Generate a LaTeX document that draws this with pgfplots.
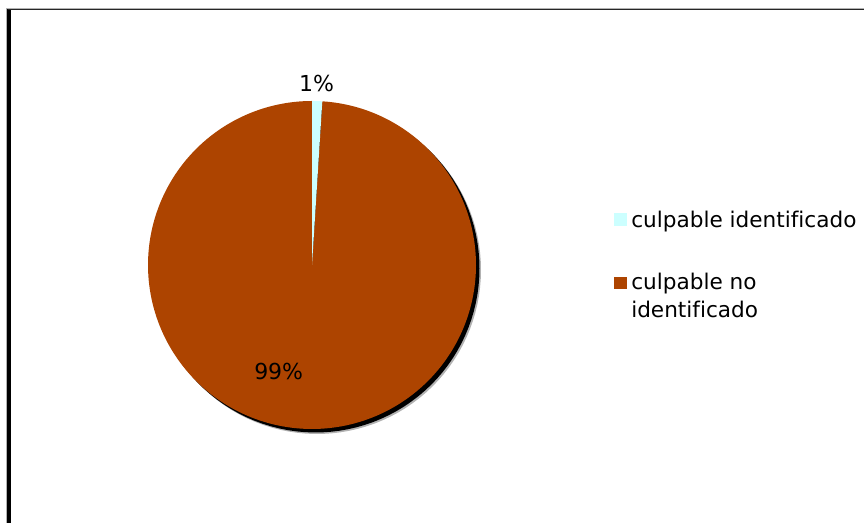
\documentclass[border=0pt]{standalone}
\usepackage{fontspec}
\setmainfont{DejaVu Sans}[Ligatures=NoCommon]
\usepackage{pgfplots}
\usepackage{pgfplotstable}
\pgfplotsset{compat=1.18}
\definecolor{piebrown}{RGB}{173,68,0}
\definecolor{piecyan}{RGB}{204,255,255}
\pgfplotstableread[col sep=comma]{
label,value
culpable identificado,1
culpable no identificado,99
}\piedata
\begin{document}%
\begin{tikzpicture}
\pgfplotstablegetelem{0}{value}\of\piedata \pgfmathsetmacro{\va}{\pgfplotsretval}
\pgfplotstablegetelem{1}{value}\of\piedata \pgfmathsetmacro{\vb}{\pgfplotsretval}
\pgfmathsetmacro{\aA}{90}
\pgfmathsetmacro{\aB}{90-3.6*\va}
\pgfmathsetmacro{\aC}{90-3.6*(\va+\vb)}
\begin{axis}[scale only axis, width=648pt, height=392.25pt,
  xmin=0, xmax=864, ymin=0, ymax=523, hide axis, clip=false]
\coordinate (SW) at (rel axis cs:0,0);
\coordinate (NE) at (rel axis cs:1,1);
% frame
\draw[gray!60, line width=0.9pt] (6.6,0) -- (6.6,514.5) -- (864,514.5);
\draw[black, line width=2.6pt] (9.2,0) -- (9.2,513.5);
\draw[black!85, line width=0.9pt] (7.5,513.5) -- (864,513.5);
% shadow
\addplot[fill=black, fill opacity=0.3, draw=none, domain=0:360, samples=120] ({317+164*cos(x)},{253+164*sin(x)}) -- cycle;
\addplot[fill=black, draw=none, domain=0:360, samples=120] ({315.5+164*cos(x)},{254.5+164*sin(x)}) -- cycle;
% slices
\addplot[fill=piebrown, draw=none, domain=\aC:\aB, samples=240] ({312+164*cos(x)},{258+164*sin(x)}) -- (312,258) -- cycle;
\addplot[fill=piecyan, draw=none, domain=\aB:\aA, samples=10] ({312+164*cos(x)},{258+164*sin(x)}) -- (312,258) -- cycle;
% labels
\node[anchor=base, inner sep=0pt, font=\fontsize{16.5}{19}\selectfont] at (316.5,431) {1\%};
\node[anchor=base, inner sep=0pt, font=\fontsize{16.5}{19}\selectfont] at (278.7,143.7) {99\%};
% legend
\fill[piecyan] (614,297) rectangle (627,310);
\fill[piebrown] (614,234) rectangle (627,246);
\node[anchor=base west, inner sep=0pt, font=\fontsize{16.2}{19}\selectfont] at (631,295.7) {culpable identificado};
\node[anchor=base west, inner sep=0pt, font=\fontsize{16.2}{19}\selectfont] at (631,233) {culpable no};
\node[anchor=base west, inner sep=0pt, font=\fontsize{16.2}{19}\selectfont] at (631,205) {identificado};
\end{axis}
\pgfresetboundingbox
\path (SW) rectangle (NE);
\end{tikzpicture}%
\end{document}
